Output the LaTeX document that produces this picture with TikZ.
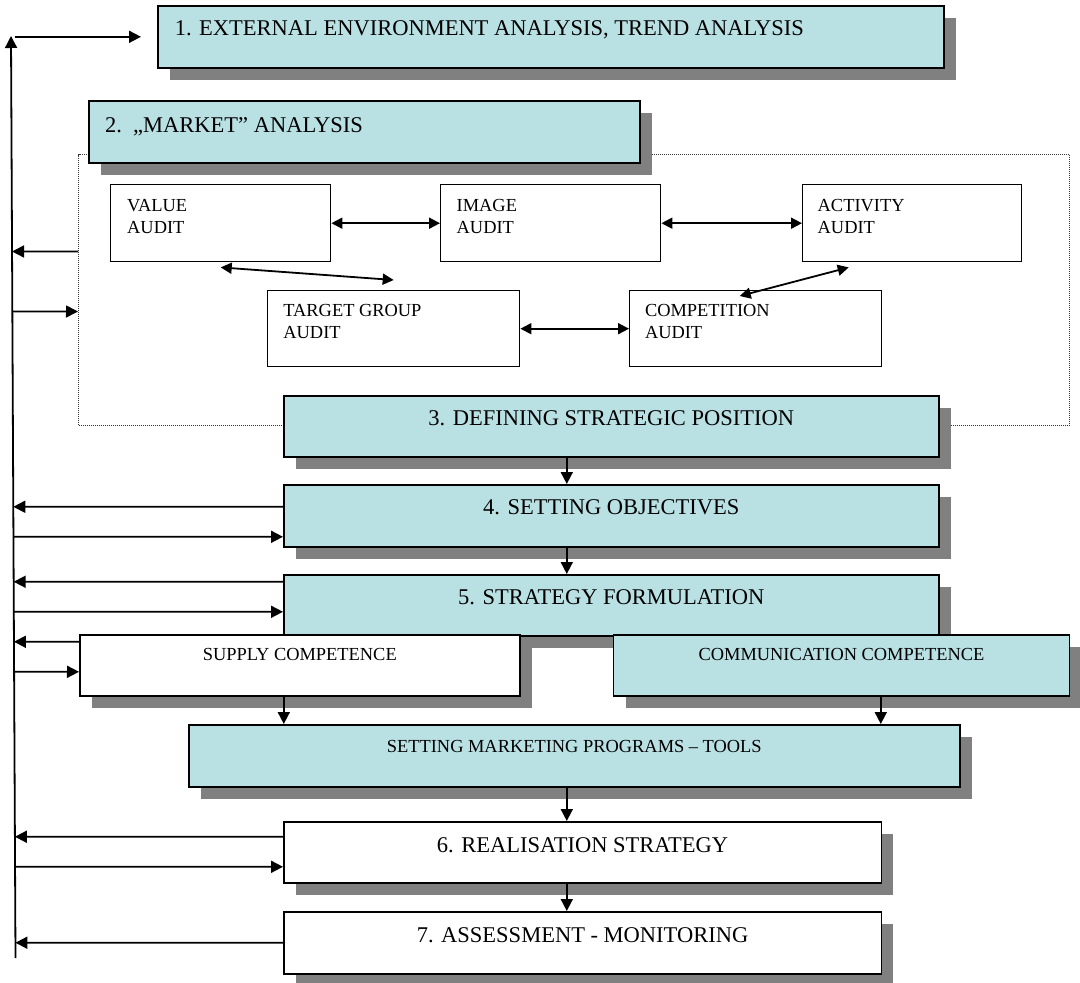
\documentclass[tikz,border=0pt]{standalone}
\usepackage{fontspec}
\setmainfont{Liberation Serif}
\usetikzlibrary{arrows.meta,shadows,calc}
\definecolor{boxblue}{RGB}{185,224,227}
\definecolor{shgray}{RGB}{128,128,128}
\newcommand\bigf{\fontsize{22.5pt}{27pt}\selectfont}
\newcommand\smf{\fontsize{18.4pt}{22pt}\selectfont}
\begin{document}
\begin{tikzpicture}[x=1pt,y=-1pt,
  shad/.style={drop shadow={shadow xshift=12pt,shadow yshift=-12pt,fill=shgray,opacity=1}},
  bx/.style={draw,line width=1.6pt,fill=boxblue,inner sep=0pt,anchor=north west,shad,font=\bigf},
  wbx/.style={bx,fill=white},
  sbx/.style={bx,font=\smf},
  audit/.style={draw,line width=1.4pt,fill=white,inner sep=0pt,anchor=north west,font=\smf},
  arr/.style={-{Triangle[length=12pt,width=12pt]},line width=1.8pt},
  darr/.style={{Triangle[length=11pt,width=11pt]}-{Triangle[length=11pt,width=11pt]},line width=1.8pt},
  dotbox/.style={draw=black!80,densely dotted,line width=1pt,inner sep=0pt,anchor=north west}]
\useasboundingbox (0,0) rectangle (1080,983);

% dotted market frame
\node[dotbox,minimum width=990.6pt,minimum height=271pt] (mk) at (78,154) {};

% main boxes
\node[bx,minimum width=786pt,text height=30pt,text depth=32pt] (b1) at (157,5)
  {\makebox[786pt][l]{\hspace{17pt}1. EXTERNAL ENVIRONMENT ANALYSIS, TREND ANALYSIS}};
\node[bx,minimum width=551pt,text height=31.7pt,text depth=30.3pt] (b2) at (88,100)
  {\makebox[551pt][l]{\hspace{16.3pt}2.\ \ „MARKET” ANALYSIS}};

% audits
\node[audit,minimum width=220pt,text height=26.7pt,text depth=50.3pt] (val) at (110,184)
  {\parbox[t]{220pt}{\leftskip=16.5pt VALUE\\AUDIT}};
\node[audit,minimum width=220pt,text height=26.7pt,text depth=50.3pt] (img) at (440,184)
  {\parbox[t]{220pt}{\leftskip=16pt IMAGE\\AUDIT}};
\node[audit,minimum width=219pt,text height=26.7pt,text depth=50.3pt] (act) at (802,184)
  {\parbox[t]{219pt}{\leftskip=15pt ACTIVITY\\AUDIT}};
\node[audit,minimum width=252pt,text height=25.7pt,text depth=50.3pt] (tgt) at (267,290)
  {\parbox[t]{252pt}{\leftskip=15.7pt TARGET GROUP\\AUDIT}};
\node[audit,minimum width=252pt,text height=25.7pt,text depth=50.3pt] (comp) at (629,290)
  {\parbox[t]{252pt}{\leftskip=15.3pt COMPETITION\\AUDIT}};

\node[bx,minimum width=655pt,text height=30pt,text depth=31pt] (b3) at (283,395) {3. DEFINING STRATEGIC POSITION};
\node[bx,minimum width=655pt,text height=30pt,text depth=32pt] (b4) at (283,484) {4. SETTING OBJECTIVES};
\node[bx,minimum width=655pt,text height=30pt,text depth=31pt] (b5) at (283,574) {5. STRATEGY FORMULATION};
\node[sbx,fill=white,minimum width=440pt,text height=26pt,text depth=35pt] (sup) at (79,634) {SUPPLY COMPETENCE};
\node[sbx,minimum width=456pt,text height=26pt,text depth=35pt] (com) at (612.7,634) {COMMUNICATION COMPETENCE};
\node[sbx,minimum width=771pt,text height=28pt,text depth=34pt] (smp) at (188,724) {SETTING MARKETING PROGRAMS – TOOLS};
\node[wbx,minimum width=597.6pt,text height=31pt,text depth=30pt] (b6) at (283,821) {6. REALISATION STRATEGY};
\node[wbx,minimum width=597.6pt,text height=31pt,text depth=31pt] (b7) at (283,911) {7. ASSESSMENT - MONITORING};

% feedback line on the left
\coordinate (vb) at (15.5,958);
\coordinate (vt) at (11,36);
\draw[arr] (vb) -- (vt);
\coordinate (ts) at ($(b1.west)+(-142,0)$);
\draw[arr,shorten >=16pt] (ts) -- (b1.west);

\foreach \n/\s in {mk/38.5,b4/9,b5/23.5,sup/23.5,b6/15.5,b7/0}{
  \coordinate (p) at ([yshift=\s pt]\n.west);
  \coordinate (p2) at ($(p)+(-100,0)$);
  \coordinate (q) at (intersection of p--p2 and vb--vt);
  \draw[arr] (p) -- (q);
}
\foreach \n/\s in {mk/-21.5,b4/-21,b5/-6.5,sup/-6.5,b6/-14.5}{
  \coordinate (p) at ([yshift=\s pt]\n.west);
  \coordinate (p2) at ($(p)+(-100,0)$);
  \coordinate (q) at (intersection of p--p2 and vb--vt);
  \draw[arr] (q) -- (p);
}

% audit connections
\draw[darr] (val.east) -- (img.west);
\draw[darr] (img.east) -- (act.west);
\draw[darr] (tgt.east) -- (comp.west);
\draw[darr] ([yshift=-5pt]val.south) -- ([yshift=10pt]tgt.north);
\draw[darr] ([xshift=-16pt,yshift=-6pt]comp.north) -- ([xshift=-63.5pt,yshift=-5pt]act.south);

% main flow
\draw[arr] ([xshift=-44.5pt]b3.south) -- ([xshift=-44.5pt]b4.north);
\draw[arr] ([xshift=-44.5pt]b4.south) -- ([xshift=-44.5pt]b5.north);
\coordinate (s1) at ([xshift=-16pt]sup.south);
\draw[arr] (s1) -- (s1 |- smp.north);
\coordinate (c1) at ([xshift=39.3pt]com.south);
\draw[arr] (c1) -- (c1 |- smp.north);
\draw[arr] ([xshift=-7.5pt]smp.south) -- ([xshift=-15.8pt]b6.north);
\draw[arr] ([xshift=-15.8pt]b6.south) -- ([xshift=-15.8pt]b7.north);
\end{tikzpicture}
\end{document}
